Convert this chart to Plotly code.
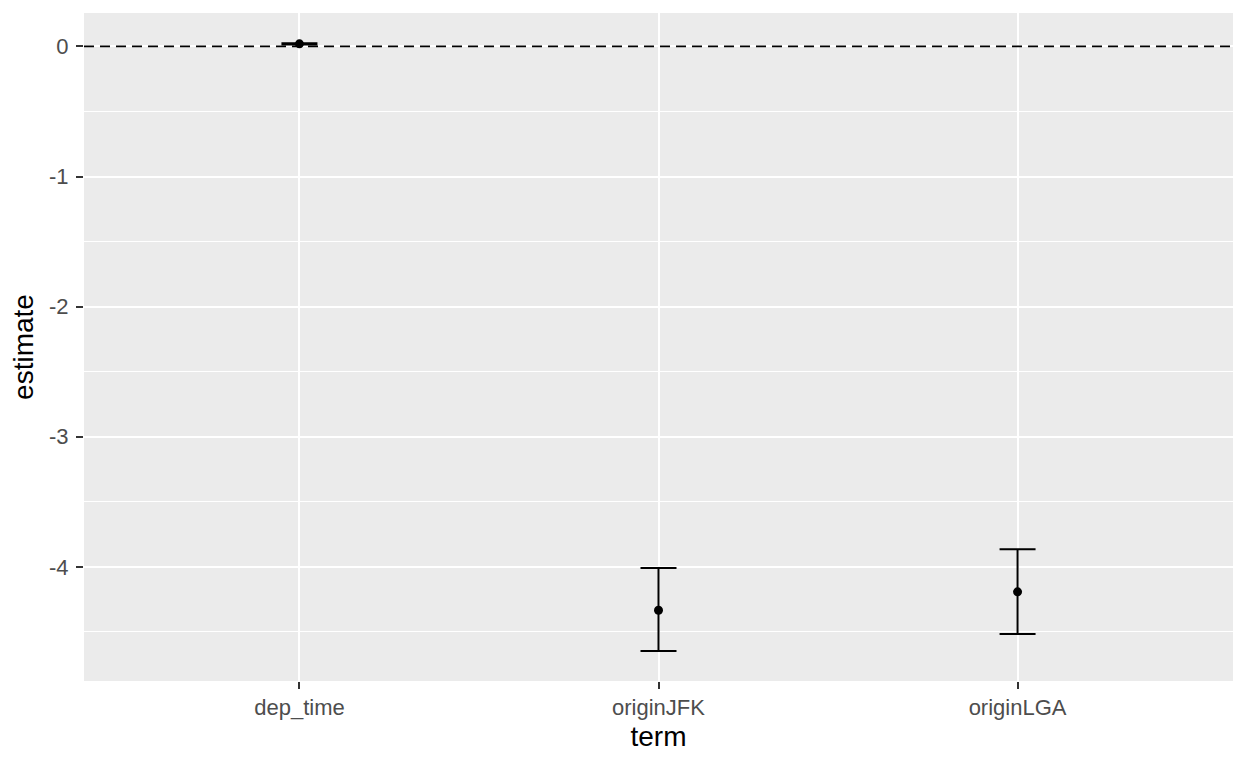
import plotly.graph_objects as go

# coefficient estimates with confidence limits
terms = ["dep_time", "originJFK", "originLGA"]
estimate = [0.02, -4.333, -4.192]
conf_low = [0.015, -4.646, -4.515]
conf_high = [0.025, -4.008, -3.864]

y_ticks = [0, -1, -2, -3, -4]

err_plus = [h - e for h, e in zip(conf_high, estimate)]
err_minus = [e - l for e, l in zip(estimate, conf_low)]

fig = go.Figure()

# zero reference line
fig.add_hline(y=0, line=dict(color="black", width=1.8, dash="10px,6px"))

fig.add_trace(go.Scatter(
    x=terms, y=estimate,
    mode="markers",
    marker=dict(color="black", size=9),
    error_y=dict(
        type="data", symmetric=False,
        array=err_plus, arrayminus=err_minus,
        color="black", thickness=2, width=18,
    ),
    showlegend=False,
))

# page body has an 8px margin, so the figure is shrunk to fit the window
fig.update_layout(
    width=1232, height=752,
    paper_bgcolor="white",
    plot_bgcolor="#EBEBEB",
    margin=dict(l=76, r=7, t=5, b=79),
    font=dict(family="Liberation Sans, Arial, sans-serif", color="#4D4D4D", size=22),
)

fig.update_xaxes(
    type="category",
    range=[-0.6, 2.6],
    showgrid=True, gridcolor="white", gridwidth=2,
    zeroline=False,
    ticks="outside", ticklen=7, tickcolor="#333333", tickwidth=2,
    title=dict(text="term", font=dict(color="black", size=28), standoff=6),
)

fig.update_yaxes(
    range=[-4.877, 0.257],
    tickvals=y_ticks,
    ticktext=[str(v) for v in y_ticks],
    showgrid=True, gridcolor="white", gridwidth=2,
    minor=dict(dtick=0.5, tick0=0, showgrid=True, gridcolor="white", gridwidth=1),
    zeroline=False,
    ticks="outside", ticklen=7, tickcolor="#333333", tickwidth=2,
    ticklabelstandoff=3,
    title=dict(text="estimate", font=dict(color="black", size=28), standoff=8),
)

fig.write_html("out.html")
